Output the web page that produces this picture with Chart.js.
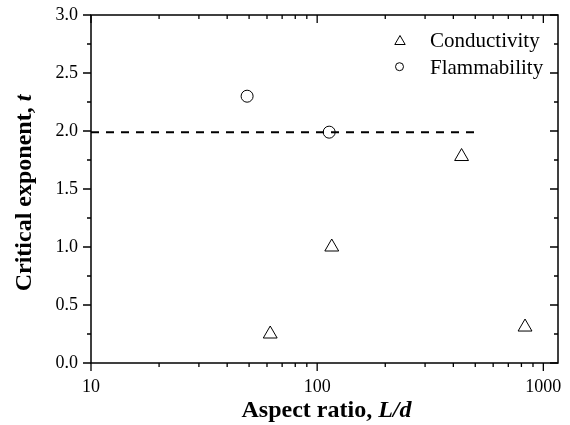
<!DOCTYPE html>
<html><head><meta charset="utf-8">
<script src="https://cdn.jsdelivr.net/npm/chart.js@4"></script>
<style>html,body{margin:0;padding:0;background:#fff;}#wrap{width:570px;height:425px;}</style>
</head><body><div id="wrap"><canvas id="c" width="570" height="425"></canvas></div>
<script>
const conductivityX = [62, 116, 435, 830];
const conductivityY = [0.25, 1.0, 1.78, 0.31];
const flammabilityX = [49, 113];
const flammabilityY = [2.3, 1.99];
const referenceX = [10, 500];
const referenceY = [1.99, 1.99];
const seriesNames = ['Conductivity', 'Flammability'];
const xMajorTicks = [10, 100, 1000];
const xTickLabels = ['10', '100', '1000'];
const yMajorTicks = [0, 0.5, 1.0, 1.5, 2.0, 2.5, 3.0];
const yTickLabels = ['0.0', '0.5', '1.0', '1.5', '2.0', '2.5', '3.0'];
const xTitle = ['Aspect ratio, ', 'L/d'];
const yTitle = ['Critical exponent, ', 't'];

const SERIF = "'Liberation Serif', 'Times New Roman', serif";
const toPts = (xs, ys) => xs.map((x, i) => ({x: x, y: ys[i]}));

function near(a, b) { return Math.abs(a - b) < 1e-6 * Math.max(1, Math.abs(b)); }
function isMajor(arr, v) { return arr.some(m => near(m, v)); }

const framePlugin = {
  id: 'frame',
  beforeDraw(chart) {
    const ctx = chart.ctx;
    ctx.save();
    ctx.fillStyle = '#fff';
    ctx.fillRect(0, 0, chart.width, chart.height);
    ctx.restore();
  },
  afterDraw(chart) {
    const ctx = chart.ctx;
    const a = chart.chartArea;
    const xs = chart.scales.x, ys = chart.scales.y;
    ctx.save();
    ctx.strokeStyle = '#000';
    ctx.lineWidth = 1.5;
    ctx.strokeRect(a.left, a.top, a.right - a.left, a.bottom - a.top);
    ctx.lineWidth = 1.3;
    ctx.beginPath();
    xs.ticks.forEach(t => {
      const v = t.value;
      const e = Math.pow(10, Math.floor(Math.log10(v) + 1e-9));
      const m = v / e;
      if (Math.abs(m - Math.round(m)) > 1e-6) return;
      const px = xs.getPixelForValue(v);
      if (px < a.left - 0.5 || px > a.right + 0.5) return;
      const len = isMajor(xMajorTicks, v) ? 8 : 4;
      ctx.moveTo(px, a.bottom); ctx.lineTo(px, a.bottom + len);
      ctx.moveTo(px, a.top); ctx.lineTo(px, a.top + len);
    });
    ys.ticks.forEach(t => {
      const v = t.value;
      const py = ys.getPixelForValue(v);
      const len = isMajor(yMajorTicks, v) ? 8 : 4;
      ctx.moveTo(a.left - len, py); ctx.lineTo(a.left, py);
      ctx.moveTo(a.right - len, py); ctx.lineTo(a.right, py);
    });
    ctx.stroke();

    // axis titles
    ctx.fillStyle = '#000';
    ctx.textBaseline = 'alphabetic';
    const fN = 'bold 24px ' + SERIF, fI = 'italic bold 24px ' + SERIF;
    ctx.font = fN; const w1 = ctx.measureText(xTitle[0]).width;
    ctx.font = fI; const w2 = ctx.measureText(xTitle[1]).width;
    let cx = (a.left + a.right) / 2 + 2;
    let sx = cx - (w1 + w2) / 2;
    ctx.font = fN; ctx.fillText(xTitle[0], sx, 417);
    ctx.font = fI; ctx.fillText(xTitle[1], sx + w1, 417);

    ctx.font = fN; const v1 = ctx.measureText(yTitle[0]).width;
    ctx.font = fI; const v2 = ctx.measureText(yTitle[1]).width;
    ctx.translate(31, (a.top + a.bottom) / 2 + 4);
    ctx.rotate(-Math.PI / 2);
    const sy = -(v1 + v2) / 2;
    ctx.font = fN; ctx.fillText(yTitle[0], sy, 0);
    ctx.font = fI; ctx.fillText(yTitle[1], sy + v1, 0);
    ctx.setTransform(1, 0, 0, 1, 0, 0);

    // legend
    ctx.lineWidth = 1;
    ctx.strokeStyle = '#000';
    const r = 6, tx = 400, ty = 41.5;
    ctx.beginPath();
    ctx.moveTo(tx, ty - r);
    ctx.lineTo(tx + r * Math.sin(Math.PI * 2 / 3), ty - r * Math.cos(Math.PI * 2 / 3));
    ctx.lineTo(tx + r * Math.sin(Math.PI * 4 / 3), ty - r * Math.cos(Math.PI * 4 / 3));
    ctx.closePath();
    ctx.stroke();
    ctx.beginPath();
    ctx.arc(399.5, 66.7, 4, 0, Math.PI * 2);
    ctx.stroke();
    ctx.font = '21px ' + SERIF;
    ctx.fillText(seriesNames[0], 430, 47);
    ctx.fillText(seriesNames[1], 430, 73.5);
    ctx.restore();
  }
};

function buildXTicks(scale) {
  const t = [];
  xMajorTicks.forEach((d, i) => {
    t.push({value: d, major: true});
    if (i < xMajorTicks.length - 1) for (let k = 2; k <= 9; k++) t.push({value: k * d, major: false});
  });
  scale.ticks = t;
}
function buildYTicks(scale) {
  const t = [];
  for (let i = 0; i < yMajorTicks.length; i++) {
    t.push({value: yMajorTicks[i]});
    if (i < yMajorTicks.length - 1) t.push({value: (yMajorTicks[i] + yMajorTicks[i + 1]) / 2});
  }
  scale.ticks = t;
}
function zeroPad(s) { s.paddingLeft = 0; s.paddingRight = 0; s.paddingTop = 0; s.paddingBottom = 0; }

new Chart(document.getElementById('c'), {
  type: 'scatter',
  data: {
    datasets: [
      {
        label: seriesNames[0],
        data: toPts(conductivityX, conductivityY),
        pointStyle: 'triangle', pointRadius: 8, pointHoverRadius: 8,
        borderColor: '#000', backgroundColor: 'rgba(0,0,0,0)', borderWidth: 1, pointBorderWidth: 1
      },
      {
        label: seriesNames[1],
        data: toPts(flammabilityX, flammabilityY),
        pointStyle: 'circle', pointRadius: 6, pointHoverRadius: 6,
        borderColor: '#000', backgroundColor: 'rgba(0,0,0,0)', borderWidth: 1, pointBorderWidth: 1
      },
      {
        label: 'reference',
        data: toPts(referenceX, referenceY),
        showLine: true, pointRadius: 0, borderDash: [8, 7], borderWidth: 2,
        borderColor: '#000', backgroundColor: '#000'
      }
    ]
  },
  options: {
    responsive: false, animation: false, devicePixelRatio: 1,
    layout: {padding: {top: 15, right: 12, left: 0, bottom: 0}},
    plugins: {legend: {display: false}, tooltip: {enabled: false}},
    scales: {
      x: {
        type: 'logarithmic', min: 10, max: 1161,
        afterBuildTicks: buildXTicks,
        afterFit: s => { s.height = 62; zeroPad(s); },
        grid: {display: false, drawTicks: false},
        border: {display: false},
        ticks: {
          autoSkip: false, maxRotation: 0, padding: 13, color: '#000',
          font: {family: SERIF, size: 18},
          callback: v => { const i = xMajorTicks.findIndex(m => near(m, v)); return i >= 0 ? xTickLabels[i] : ''; }
        }
      },
      y: {
        type: 'linear', min: 0, max: 3,
        afterBuildTicks: buildYTicks,
        afterFit: s => { s.width = 91; zeroPad(s); },
        grid: {display: false, drawTicks: false},
        border: {display: false},
        ticks: {
          autoSkip: false, padding: 13, color: '#000',
          font: {family: SERIF, size: 18},
          callback: v => { const i = yMajorTicks.findIndex(m => near(m, v)); return i >= 0 ? yTickLabels[i] : ''; }
        }
      }
    }
  },
  plugins: [framePlugin]
});
</script></body></html>
